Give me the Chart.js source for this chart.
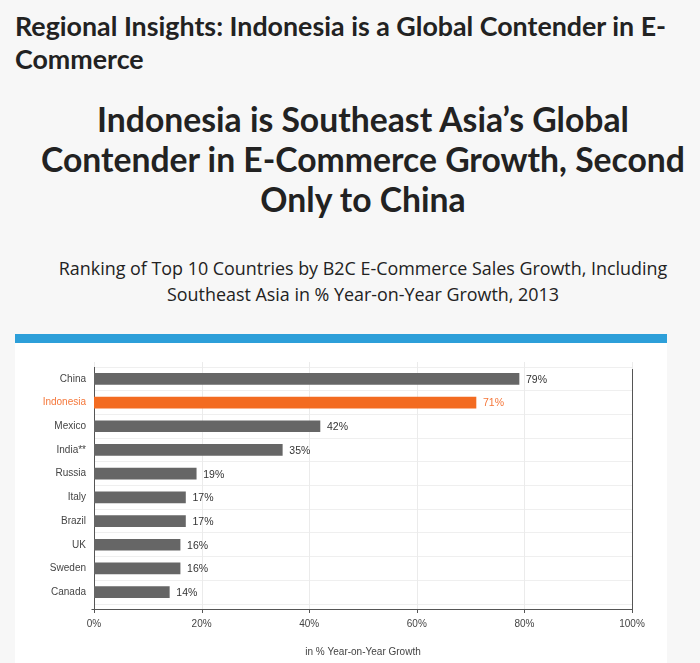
<!DOCTYPE html>
<html>
<head>
<meta charset="utf-8">
<script src="https://cdn.jsdelivr.net/npm/chart.js@4.4.0/dist/chart.umd.min.js"></script>
<style>
  html, body { margin: 0; padding: 0; }
  body { width: 700px; height: 663px; background: #f7f7f7; position: relative; overflow: hidden; }
  .hdr { position: absolute; left: 15px; top: 10px; font-family: Lato, sans-serif; font-weight: 700; font-size: 26.8px; line-height: 33px; color: #222; white-space: nowrap; }
  .ttl { position: absolute; left: 40px; width: 646px; top: 99px; text-align: center; font-family: Lato, sans-serif; font-weight: 700; font-size: 33.7px; line-height: 40px; color: #222; white-space: nowrap; }
  .sub { position: absolute; left: 40px; width: 646px; top: 255px; text-align: center; font-family: "Open Sans", sans-serif; font-size: 17.9px; line-height: 26px; color: #222; white-space: nowrap; }
  .blue { position: absolute; left: 15px; top: 334px; width: 652px; height: 9px; background: #2d9fd9; }
  .panel { position: absolute; left: 15px; top: 343px; width: 652px; height: 320px; background: #fff; }
  canvas { position: absolute; left: 0; top: 0; }
</style>
</head>
<body>
<div class="hdr">Regional Insights: Indonesia is a Global Contender in E-<br>Commerce</div>
<div class="ttl">Indonesia is Southeast Asia’s Global<br>Contender in E-Commerce Growth, Second<br>Only to China</div>
<div class="sub">Ranking of Top 10 Countries by B2C E-Commerce Sales Growth, Including<br>Southeast Asia in % Year-on-Year Growth, 2013</div>
<div class="blue"></div>
<div class="panel"><canvas id="c" width="652" height="320"></canvas></div>
<script>
const categories = ['China', 'Indonesia', 'Mexico', 'India**', 'Russia', 'Italy', 'Brazil', 'UK', 'Sweden', 'Canada'];
const growthValues = [79, 71, 42, 35, 19, 17, 17, 16, 16, 14];
const highlightCategory = 'Indonesia';
const xTickValues = [0, 20, 40, 60, 80, 100];
const xAxisTitle = 'in % Year-on-Year Growth';

const GRAY = '#666666';
const ORANGE = '#f36b21';
const ORANGE_TEXT = '#f5773a';
const FONT = '"Liberation Sans", Arial, Helvetica, sans-serif';

const framePlugin = {
  id: 'frame',
  beforeDatasetsDraw(chart) {
    const ctx = chart.ctx, a = chart.chartArea, xs = chart.scales.x;
    const bottom = a.bottom + 5;
    ctx.save();
    ctx.lineWidth = 1;
    ctx.strokeStyle = '#ebebeb';
    xTickValues.forEach(v => {
      const px = Math.round(xs.getPixelForValue(v)) + 0.5;
      ctx.beginPath(); ctx.moveTo(px, a.top - 5); ctx.lineTo(px, bottom); ctx.stroke();
    });
    ctx.strokeStyle = '#555';
    const l = Math.round(xs.getPixelForValue(0)) + 0.5;
    const r = Math.round(xs.getPixelForValue(100)) + 0.5;
    ctx.beginPath(); ctx.moveTo(l, a.top); ctx.lineTo(l, bottom + 3); ctx.stroke();
    ctx.beginPath(); ctx.moveTo(r, a.top + 2); ctx.lineTo(r, bottom + 3); ctx.stroke();
    ctx.beginPath(); ctx.moveTo(l - 3, bottom + 0.5); ctx.lineTo(r, bottom + 0.5); ctx.stroke();
    xTickValues.forEach(v => {
      const px = Math.round(xs.getPixelForValue(v)) + 0.5;
      ctx.beginPath(); ctx.moveTo(px, bottom); ctx.lineTo(px, bottom + 4); ctx.stroke();
    });
    ctx.restore();
  },
  afterDatasetsDraw(chart) {
    const ctx = chart.ctx;
    const meta = chart.getDatasetMeta(0);
    ctx.save();
    ctx.font = '10.5px ' + FONT;
    ctx.textBaseline = 'middle';
    ctx.textAlign = 'left';
    meta.data.forEach((bar, i) => {
      ctx.fillStyle = categories[i] === highlightCategory ? ORANGE_TEXT : '#333';
      ctx.fillText(growthValues[i] + '%', bar.x + 7, bar.y + 1);
    });
    ctx.restore();
  }
};

new Chart(document.getElementById('c'), {
  type: 'bar',
  data: {
    labels: categories,
    datasets: [{
      data: growthValues,
      backgroundColor: categories.map(c => c === highlightCategory ? ORANGE : GRAY),
      barThickness: 11,
      borderWidth: 0
    }]
  },
  options: {
    indexAxis: 'y',
    responsive: false,
    devicePixelRatio: 1,
    animation: false,
    layout: { padding: { top: 24, right: 35, left: 0, bottom: 0 } },
    plugins: { legend: { display: false }, tooltip: { enabled: false } },
    scales: {
      x: {
        min: 0, max: 100,
        afterBuildTicks(scale) { scale.ticks = xTickValues.map(v => ({ value: v })); },
        afterFit(scale) { scale.height = 59; },
        grid: { display: false, drawTicks: false },
        border: { display: false },
        ticks: { padding: 14, color: '#444', font: { family: FONT, size: 10 }, callback: v => v + '%' },
        title: { display: true, text: xAxisTitle, color: '#444', font: { family: FONT, size: 10 }, padding: { top: 0, bottom: 5 } }
      },
      y: {
        afterFit(scale) { scale.width = 79; },
        grid: { display: true, offset: true, color: '#efefef', drawTicks: false },
        border: { display: false },
        ticks: {
          padding: 8,
          font: { family: FONT, size: 10 },
          color: ctx => categories[ctx.index] === highlightCategory ? ORANGE_TEXT : '#444'
        }
      }
    }
  },
  plugins: [framePlugin]
});
</script>
</body>
</html>
